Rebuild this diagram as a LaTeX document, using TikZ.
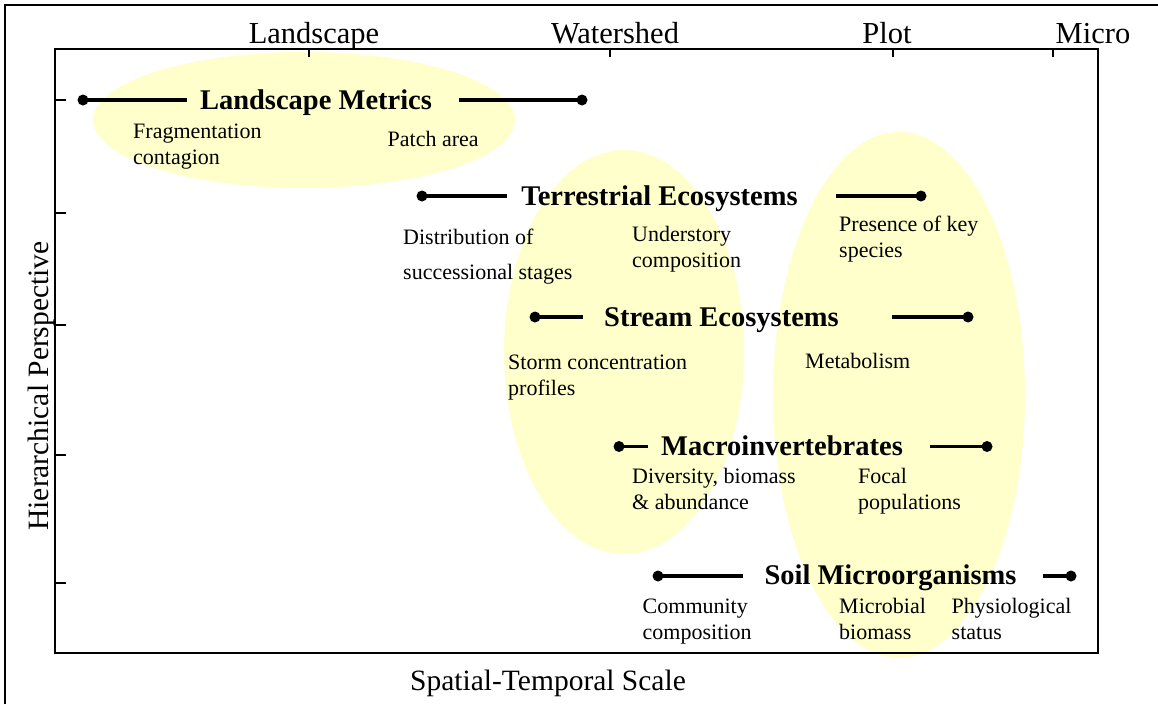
\documentclass[tikz,border=0pt]{standalone}
\usepackage{fontspec}
\setmainfont{Liberation Serif}
\definecolor{paleyellow}{HTML}{FFFFCC}
\newcommand{\fl}{\rule{0pt}{15.5pt}}
\begin{document}
\begin{tikzpicture}[x=1pt,y=-1pt,
  blob/.style={fill=paleyellow, draw=none},
  dotn/.style={circle, fill=black, inner sep=0pt, minimum size=11pt},
  conn/.style={line width=3.2pt},
  ttl/.style={font=\fontsize{28.5}{34}\selectfont\bfseries, inner sep=0pt, anchor=base},
  toplab/.style={font=\fontsize{30.5}{36}\selectfont, inner sep=0pt, anchor=base},
  axlab/.style={font=\fontsize{29.5}{35}\selectfont, inner sep=0pt},
  sub/.style={font=\fontsize{22}{26}\selectfont, inner sep=0pt, anchor=north west, align=left},
  tickm/.style={line width=1.3pt},
  framel/.style={line width=2pt}
]
\useasboundingbox (0,0) rectangle (1158,704);

% outer border (cropped)
\draw[line width=2pt] (4.5,704) -- (4.5,4.5) -- (1158,4.5);

% highlighted regions
\fill[blob] (304,120) ellipse [x radius=211pt, y radius=68pt];
\fill[blob] (624,352) ellipse [x radius=120pt, y radius=202pt];
\fill[blob] (899,395) ellipse [x radius=126pt, y radius=263pt];

% plot frame and ticks
\draw[framel] (55,49) rectangle (1098,653);
\foreach \tx in {309,610,893,1053} \draw[tickm] (\tx,49) -- (\tx,57);
\foreach \ty in {100,213,325,455,583} \draw[tickm] (55,\ty) -- (66,\ty);

% axis labels
\node[toplab] (xl1) at (314,43) {Landscape};
\node[toplab] (xl2) at (615,43) {Watershed};
\node[toplab] (xl3) at (887,43) {Plot};
\node[toplab] (xl4) at (1093,43) {Micro};
\node[axlab, anchor=base] (xaxis) at (548,690) {Spatial-Temporal Scale};
\node[axlab, rotate=90] (yaxis) at (41,386) {Hierarchical Perspective};

% Landscape Metrics
\node[dotn] (lmL) at (83,100) {};
\coordinate (lmLe) at (187,100);
\node[ttl] (lmT) at (316,109) {Landscape Metrics};
\coordinate (lmRs) at (459,100);
\node[dotn] (lmR) at (582,100) {};
\draw[conn] (lmL.center) -- (lmLe);
\draw[conn] (lmRs) -- (lmR.center);
\node[sub] (lm1) at (133,122.5) {\fl Fragmentation\\contagion};
\node[sub] (lm2) at (387.5,130.5) {\fl Patch area};

% Terrestrial Ecosystems
\node[dotn] (teL) at (422,196) {};
\coordinate (teLe) at (507,196);
\node[ttl] (teT) at (659.5,205) {Terrestrial Ecosystems};
\coordinate (teRs) at (836,196);
\node[dotn] (teR) at (921,196) {};
\draw[conn] (teL.center) -- (teLe);
\draw[conn] (teRs) -- (teR.center);
\node[sub] (te1) at (403,228.8) {\fl Distribution of\\[9pt]successional stages};
\node[sub] (te2) at (632,226.2) {\fl Understory\\composition};
\node[sub] (te3) at (839,216.2) {\fl Presence of key\\species};

% Stream Ecosystems
\node[dotn] (seL) at (535,317) {};
\coordinate (seLe) at (583,317);
\node[ttl] (seT) at (721.5,326) {Stream Ecosystems};
\coordinate (seRs) at (892,317);
\node[dotn] (seR) at (968,317) {};
\draw[conn] (seL.center) -- (seLe);
\draw[conn] (seRs) -- (seR.center);
\node[sub] (se1) at (508,353.8) {\fl Storm concentration\\profiles};
\node[sub] (se2) at (805,352.8) {\fl Metabolism};

% Macroinvertebrates
\node[dotn] (miL) at (619,446.5) {};
\coordinate (miLe) at (648,446.5);
\node[ttl] (miT) at (782,455.5) {Macroinvertebrates};
\coordinate (miRs) at (930,446.5);
\node[dotn] (miR) at (987,446.5) {};
\draw[conn] (miL.center) -- (miLe);
\draw[conn] (miRs) -- (miR.center);
\node[sub] (mi1) at (632,467.8) {\fl Diversity, biomass\\\& abundance};
\node[sub] (mi2) at (858,467.8) {\fl Focal\\populations};

% Soil Microorganisms
\node[dotn] (soL) at (658,576) {};
\coordinate (soLe) at (743,576);
\node[ttl] (soT) at (890.5,584.5) {Soil Microorganisms};
\coordinate (soRs) at (1043,576);
\node[dotn] (soR) at (1071,576) {};
\draw[conn] (soL.center) -- (soLe);
\draw[conn] (soRs) -- (soR.center);
\node[sub] (so1) at (642.5,597.8) {\fl Community\\composition};
\node[sub] (so2) at (839,597.8) {\fl Microbial\\biomass};
\node[sub] (so3) at (951.5,597.8) {\fl Physiological\\status};
\end{tikzpicture}
\end{document}
